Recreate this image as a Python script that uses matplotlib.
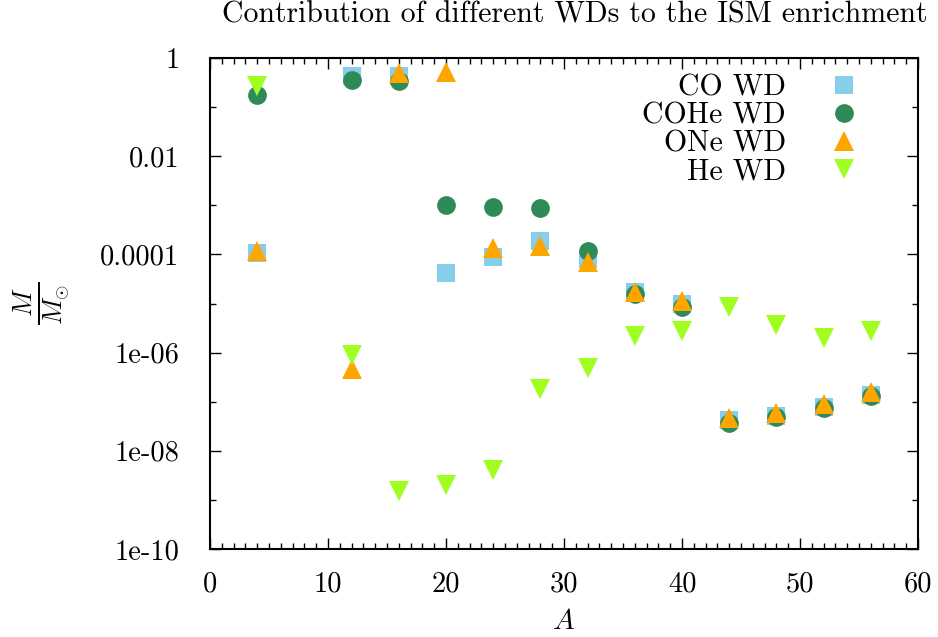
import matplotlib
matplotlib.use('Agg')
import matplotlib.pyplot as plt
from matplotlib.ticker import FixedLocator, MultipleLocator

plt.rcParams['font.family'] = ['cmr10', 'DejaVu Serif']
plt.rcParams['mathtext.fontset'] = 'cm'
plt.rcParams['axes.unicode_minus'] = False

# mass number of each isotope group
A = [4, 12, 16, 20, 24, 28, 32, 36, 40, 44, 48, 52, 56]

# ejected mass (in solar masses) per WD type
co_wd = [1.05e-4, 0.44, 0.44, 4.1e-5, 8.7e-5, 1.9e-4, 8.1e-5, 1.7e-5, 1.0e-5, 4.2e-8, 5.0e-8, 7.8e-8, 1.4e-7]
cohe_wd = [0.18, 0.356, 0.34, 1.02e-3, 9.3e-4, 8.7e-4, 1.17e-4, 1.56e-5, 8.6e-6, 3.7e-8, 4.9e-8, 7.5e-8, 1.3e-7]
one_wd = [1.17e-4, 4.7e-7, 0.5, 0.51, 1.36e-4, 1.5e-4, 6.9e-5, 1.7e-5, 1.1e-5, 4.7e-8, 5.8e-8, 8.8e-8, 1.6e-7]
he_wd = [0.275, 9.1e-7, 1.5e-9, 2.05e-9, 4.1e-9, 1.8e-7, 4.8e-7, 2.2e-6, 2.8e-6, 8.6e-6, 3.6e-6, 2.0e-6, 2.8e-6]

ytick_vals = [1e-10, 1e-8, 1e-6, 1e-4, 1e-2, 1]
ytick_labels = ['1e-10', '1e-08', '1e-06', '0.0001', '0.01', '1']

fig = plt.figure(figsize=(9.38, 6.37), dpi=100)
ax = fig.add_axes([210 / 938, 1 - 549 / 637, 708 / 938, 491 / 637])

ax.plot(A, co_wd, 's', color='#87ceeb', ms=13.5, mew=0, label='CO WD')
ax.plot(A, cohe_wd, 'o', color='#2e8b57', ms=13.5, mew=0, label='COHe WD')
ax.plot(A, one_wd, '^', color='#ffa500', ms=14, mew=0, label='ONe WD')
ax.plot(A, he_wd, 'v', color='#a0ff20', ms=14, mew=0, label='He WD')

ax.set_yscale('log')
ax.set_xlim(0, 60)
ax.set_ylim(1e-10, 1)

ax.xaxis.set_major_locator(MultipleLocator(10))
ax.xaxis.set_minor_locator(MultipleLocator(1))
ax.yaxis.set_major_locator(FixedLocator(ytick_vals))
ax.set_yticklabels(ytick_labels)
ax.yaxis.set_minor_locator(FixedLocator([1e-9, 1e-7, 1e-5, 1e-3, 1e-1]))
ax.yaxis.set_minor_formatter(plt.NullFormatter())

ax.tick_params(which='both', direction='in', top=True, right=True, labelsize=20.5, width=1.0)
ax.tick_params(which='major', length=8)
ax.tick_params(which='minor', length=4.5)
ax.tick_params(axis='y', which='major', pad=22)
ax.tick_params(axis='x', which='major', pad=16)
for s in ax.spines.values():
    s.set_linewidth(1.5)

# title centred over the whole picture width, like the gnuplot output
fig.text(575 / 938, 1 - 15 / 637, 'Contribution of different WDs to the ISM enrichment',
         fontsize=21.5, ha='center', va='center')
ax.set_xlabel('$A$', fontsize=21, labelpad=8)
ax.set_ylabel(r'$\frac{M}{M_{\odot}}$', fontsize=27, labelpad=21, rotation=90)

ax.legend(loc='upper right', bbox_to_anchor=(0.957, 1.01), frameon=False, markerfirst=False,
          fontsize=21.5, handlelength=1.5, handletextpad=1.2, labelspacing=0.02, numpoints=1,
          borderaxespad=0.3)

fig.savefig('out.png', dpi=100)
